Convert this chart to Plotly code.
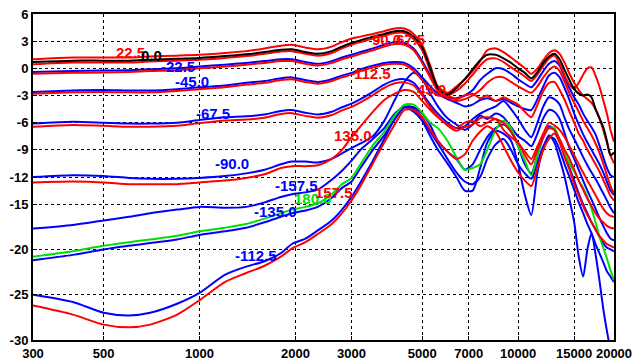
import numpy as np
import plotly.graph_objects as go

freq = [300, 400, 500, 600, 700, 850, 1000, 1200, 1400, 1600, 1800, 1950, 2150, 2350, 2600, 2800,
        3000, 3200, 3500, 3800, 4100, 4400, 4700, 5000, 5300, 5600, 6000, 6400, 6800, 7200, 7600,
        8000, 8500, 9000, 9500, 10000, 10500, 11000, 11500, 12000, 12500, 13000, 13500, 14000,
        14500, 15000, 15500, 16000, 16500, 17000, 17500, 18000, 18500, 19000, 19500, 20000]

r_top = [1.0, 1.2, 1.2, 1.2, 1.3, 1.4, 1.5, 1.7, 1.9, 2.2, 2.5, 2.6, 2.3, 2.1, 2.4, 2.9, 3.3, 3.5, 3.8, 4.1, 4.4, 4.4,
         3.8, 2.6, 0.3, -2.0, -2.7, -2.0, -1.2, -0.3, 0.8, 2.0, 2.2, 1.8, 1.2, 0.6, 0.0, -0.6, 0.0, 0.9, 1.7, 2.0,
         1.6, 0.6, -0.6, -1.6, -2.4, -3.0, -3.4, -3.8, -4.5, -5.5, -6.8, -8.2, -9.6, -10.5]
k_0 = [0.7, 0.85, 0.85, 0.85, 0.95, 1.05, 1.15, 1.35, 1.55, 1.8, 2.05, 2.1, 1.8, 1.6, 1.9, 2.4, 2.8, 3.1, 3.5, 3.8, 4.1, 4.1,
       3.5, 2.3, 0.0, -2.2, -2.9, -2.2, -1.2, -0.1, 0.9, 1.5, 1.5, 1.1, 0.6, 0.0, -0.5, -1.1, -0.4, 0.6, 1.3, 1.6,
       1.0, -0.2, -1.3, -2.3, -2.8, -3.0, -2.9, -3.2, -4.5, -5.5, -6.5, -8.0, -9.6, -9.3]
r_2 = [0.45, 0.65, 0.65, 0.65, 0.75, 0.85, 0.95, 1.15, 1.35, 1.6, 1.85, 1.9, 1.6, 1.4, 1.7, 2.2, 2.6, 2.9, 3.3, 3.6, 3.9, 3.9,
       3.2, 2.0, -0.3, -2.4, -3.0, -2.5, -1.7, -0.7, 0.3, 1.0, 1.1, 0.7, 0.1, -0.4, -0.9, -1.4, -0.7, 0.3, 1.1, 1.4,
       0.5, -0.8, -1.8, -2.3, -1.6, -0.7, 0.0, 0.1, -0.8, -2.0, -3.5, -5.0, -6.8, -8.1]
b_1 = [-0.4, -0.3, -0.25, -0.2, -0.1, 0.0, 0.2, 0.4, 0.6, 0.8, 1.0, 1.0, 0.7, 0.5, 0.8, 1.2, 1.5, 1.8, 2.2, 2.6, 2.9, 2.8,
       2.2, 0.8, -0.8, -2.3, -3.2, -3.3, -3.0, -2.4, -1.3, -0.6, 0.0, -0.1, -0.6, -1.2, -1.7, -2.1, -1.3, -0.3, 0.5, 0.8,
       0.3, -1.0, -2.2, -3.2, -4.0, -5.0, -5.8, -6.5, -7.3, -8.5, -9.8, -11.0, -11.8, -12.0]
r_3 = [-0.6, -0.5, -0.45, -0.4, -0.3, -0.2, 0.0, 0.2, 0.4, 0.6, 0.8, 0.8, 0.5, 0.3, 0.6, 1.0, 1.3, 1.6, 2.0, 2.4, 2.7, 2.6,
       2.0, 0.6, -1.0, -2.5, -3.3, -3.6, -3.4, -3.0, -2.4, -1.6, -1.0, -1.0, -1.5, -2.0, -2.4, -2.7, -2.0, -1.0, -0.2, 0.2,
       -0.3, -1.5, -2.8, -3.8, -4.8, -5.8, -6.6, -7.4, -8.3, -9.3, -10.5, -11.8, -13.0, -13.8]
b_2 = [-2.6, -2.45, -2.4, -2.45, -2.45, -2.3, -2.1, -1.9, -1.6, -1.4, -1.1, -1.0, -1.3, -1.5, -1.2, -0.8, -0.5, -0.1, 0.3, 0.6, 0.7, 0.6,
       0.0, -1.0, -2.0, -2.8, -3.4, -3.8, -4.2, -4.0, -3.5, -3.3, -3.6, -3.4, -3.8, -4.2, -4.5, -4.6, -3.4, -2.0, -0.8, -0.5,
       -1.0, -2.2, -3.5, -5.0, -6.2, -7.3, -8.2, -9.0, -9.8, -10.6, -11.5, -12.5, -13.5, -14.0]
r_4 = [-2.8, -2.65, -2.6, -2.65, -2.65, -2.5, -2.3, -2.1, -1.8, -1.6, -1.3, -1.2, -1.5, -1.7, -1.4, -1.0, -0.7, -0.3, 0.1, 0.4, 0.5, 0.4,
       -0.3, -1.3, -2.4, -3.0, -3.0, -3.4, -3.0, -2.8, -3.3, -3.0, -3.6, -3.2, -3.6, -4.0, -4.8, -5.4, -4.0, -2.5, -1.6, -1.5,
       -2.4, -3.5, -4.8, -6.0, -7.2, -8.0, -9.0, -9.8, -10.6, -11.4, -12.3, -13.2, -14.1, -14.6]
b_3 = [-6.1, -5.9, -6.0, -6.1, -6.1, -6.0, -5.7, -5.4, -5.3, -5.1, -4.7, -4.6, -4.9, -5.1, -4.8, -4.3, -3.9, -3.4, -2.6, -1.8, -1.3, -1.2,
       -1.6, -2.8, -4.0, -5.0, -6.0, -6.6, -6.4, -5.6, -5.0, -4.6, -4.2, -3.6, -4.5, -5.6, -6.8, -7.6, -6.0, -4.2, -3.2, -3.4,
       -4.0, -5.5, -6.8, -7.8, -8.8, -9.8, -10.7, -11.5, -12.2, -13.0, -13.8, -14.6, -15.4, -16.0]
r_5 = [-6.45, -6.25, -6.35, -6.45, -6.45, -6.35, -6.05, -5.75, -5.65, -5.45, -5.05, -4.95, -5.25, -5.45, -5.15, -4.65, -4.25, -3.75, -2.95, -2.15, -1.65, -1.55,
       -1.9, -3.0, -4.3, -5.3, -6.3, -6.9, -6.5, -6.2, -5.5, -5.4, -5.6, -6.0, -7.0, -8.2, -9.2, -10.0, -8.6, -7.2, -6.0, -6.3,
       -6.8, -7.6, -8.6, -9.6, -10.6, -11.5, -12.4, -13.2, -14.0, -14.8, -15.5, -16.0, -16.3, -16.4]
b_4 = [-12.0, -11.8, -11.9, -12.1, -12.2, -12.2, -12.1, -11.9, -11.6, -11.2, -10.6, -10.3, -10.3, -10.4, -10.0, -9.4, -8.8, -8.3, -7.5, -5.8, -3.5, -1.5,
       -0.5, -1.2, -2.8, -4.2, -5.5, -6.2, -6.8, -6.2, -5.2, -5.6, -5.0, -5.4, -6.5, -7.5, -8.0, -8.6, -7.2, -5.5, -4.6, -4.8,
       -5.6, -7.2, -8.8, -10.0, -11.2, -12.4, -13.5, -14.5, -15.5, -16.5, -17.4, -18.2, -18.8, -19.0]
r_6 = [-12.6, -12.5, -12.6, -12.8, -12.8, -12.8, -12.6, -12.4, -12.1, -11.7, -11.0, -10.8, -10.8, -10.7, -10.0, -9.0, -7.6, -6.4, -4.8, -3.5, -2.8, -2.4,
       -2.6, -3.6, -4.6, -5.4, -6.2, -6.6, -6.0, -5.8, -6.4, -6.0, -5.6, -6.8, -7.6, -8.2, -9.6, -10.6, -9.0, -7.6, -6.6, -6.8,
       -7.8, -9.0, -10.0, -11.2, -12.4, -13.4, -14.4, -15.2, -16.0, -16.6, -17.0, -17.4, -17.6, -17.7]
b_5 = [-17.7, -17.3, -16.8, -16.4, -16.0, -15.6, -15.3, -15.4, -15.3, -14.8, -14.2, -13.9, -13.7, -13.4, -12.3, -11.3, -10.2, -9.0, -7.8, -6.6, -5.0, -4.2,
       -4.3, -5.0, -6.3, -8.0, -9.2, -10.0, -11.2, -10.6, -9.0, -7.6, -6.6, -6.2, -7.0, -8.6, -10.6, -11.6, -9.6, -7.6, -6.4, -6.8,
       -8.0, -9.6, -11.0, -12.4, -13.8, -15.0, -16.0, -17.0, -17.8, -18.6, -19.3, -19.8, -20.0, -20.2]
g_180 = [-20.8, -20.2, -19.6, -19.2, -18.9, -18.5, -18.0, -17.6, -17.2, -16.6, -16.0, -15.6, -15.3, -14.9, -13.9, -12.8, -12.1, -10.6, -8.5, -7.0, -5.2, -4.0,
         -4.0, -4.9, -6.0, -6.6, -8.0, -9.8, -11.2, -11.0, -10.6, -9.0, -6.8, -5.8, -6.6, -8.6, -10.2, -11.8, -9.6, -7.4, -6.6, -6.6,
         -8.0, -9.4, -10.5, -11.4, -12.4, -13.2, -14.2, -15.5, -17.0, -18.6, -19.8, -21.0, -22.3, -23.4]
b_6 = [-21.2, -20.6, -20.0, -19.6, -19.3, -18.9, -18.4, -18.0, -17.6, -17.0, -16.4, -16.0, -15.7, -15.3, -14.3, -13.2, -12.5, -11.0, -9.0, -7.4, -5.6, -4.3,
       -4.5, -5.5, -7.0, -8.3, -10.0, -11.5, -12.5, -12.8, -12.0, -10.0, -8.4, -7.8, -9.0, -10.6, -11.6, -12.2, -10.4, -8.6, -7.6, -7.8,
       -9.0, -10.6, -12.0, -13.4, -14.8, -16.0, -17.2, -18.2, -19.4, -20.4, -21.4, -22.4, -23.0, -23.6]
b_7 = [-25.0, -25.8, -27.0, -27.3, -27.0, -26.0, -24.8, -22.8, -21.9, -21.3, -20.4, -19.4, -18.8, -17.9, -16.8, -15.6, -14.2, -12.6, -10.2, -7.8, -5.6, -4.3,
       -4.8, -5.8, -7.5, -9.0, -10.5, -12.0, -13.5, -13.5, -11.0, -8.2, -6.9, -7.2, -8.0, -10.6, -14.0, -16.2, -11.5, -8.8, -7.4, -8.2,
       -10.0, -12.0, -14.5, -17.0, -20.8, -23.0, -20.0, -18.2, -20.5, -23.4, -26.5, -29.0, -31.0, -32.0]
r_7 = [-26.2, -27.2, -28.3, -28.6, -28.3, -27.2, -25.6, -23.6, -22.6, -21.8, -20.8, -19.9, -19.2, -18.3, -17.2, -16.0, -14.6, -13.0, -10.5, -8.2, -6.2, -4.6,
       -4.6, -5.4, -6.8, -8.0, -9.2, -10.0, -9.5, -8.0, -7.0, -6.4, -7.0, -8.6, -10.2, -11.5, -12.4, -13.0, -11.0, -9.0, -7.8, -7.2,
       -8.2, -9.8, -11.2, -12.8, -14.0, -15.2, -16.2, -17.0, -17.8, -18.5, -19.0, -19.4, -19.6, -19.8]

blue_curves = [b_1, b_2, b_3, b_4, b_5, b_6, b_7]
red_curves = [r_top, r_2, r_3, r_4, r_5, r_6, r_7]

label_text = ["22.5", "0.0", "-22.5", "-45.0", "-67.5", "-90.0", "-157.5", "180.0", "157.5",
              "-135.0", "-112.5", "135.0", "112.5", "90.0", "67.5", "45.0"]
label_freq = [605, 704, 857, 945, 1098, 1265, 2018, 2267, 2643, 1726, 1503, 3022, 3480, 3850, 4580, 5366]
label_db = [1.8, 1.46, 0.24, -1.5, -5.0, -10.46, -12.9, -14.4, -13.7, -15.8, -20.7, -7.4, -0.57, 3.2, 3.2, -2.3]
label_color = ["red", "black", "blue", "blue", "blue", "blue", "blue", "#00e000", "red",
               "blue", "blue", "red", "red", "red", "red", "red"]

x_ticks = [300, 500, 1000, 2000, 3000, 5000, 7000, 10000, 15000, 20000]
y_ticks = [6, 3, 0, -3, -6, -9, -12, -15, -20, -25, -30]

line_kw = dict(width=2, shape="spline", smoothing=0.7)

fig = go.Figure()
for c in blue_curves:
    fig.add_trace(go.Scatter(x=freq, y=c, mode="lines", line=dict(color="#0000ff", **line_kw)))
fig.add_trace(go.Scatter(x=freq, y=g_180, mode="lines", line=dict(color="#00e000", **line_kw)))
for c in red_curves:
    fig.add_trace(go.Scatter(x=freq, y=c, mode="lines", line=dict(color="#ff0000", **line_kw)))
fig.add_trace(go.Scatter(x=freq, y=k_0, mode="lines", line=dict(color="black", **line_kw)))

for t, f, d, col in zip(label_text, label_freq, label_db, label_color):
    fig.add_annotation(x=np.log10(f), y=d, text="<b>%s</b>" % t, showarrow=False,
                       font=dict(family="Liberation Sans, Arial", size=15, color=col))

axis_common = dict(showgrid=True, gridcolor="black", griddash="dot", gridwidth=1,
                   showline=True, linecolor="black", linewidth=2, mirror=True,
                   ticks="inside", ticklen=4, tickcolor="black", zeroline=False, automargin=False,
                   tickfont=dict(family="Liberation Sans, Arial", size=13, color="black", weight="bold"))

fig.update_xaxes(type="log", range=[np.log10(300), np.log10(20000)],
                 tickvals=x_ticks, ticktext=[str(v) for v in x_ticks], **axis_common)
fig.update_yaxes(range=[-30, 6], tickvals=y_ticks, ticktext=[str(v) for v in y_ticks], **axis_common)

fig.update_layout(width=633, height=360, margin=dict(l=33, r=19, t=14, b=20, autoexpand=False),
                  plot_bgcolor="white", paper_bgcolor="white", showlegend=False)

fig.write_html("out.html", config={"displayModeBar": False},
               post_script="document.body.style.margin='0';document.body.style.overflow='hidden';")
